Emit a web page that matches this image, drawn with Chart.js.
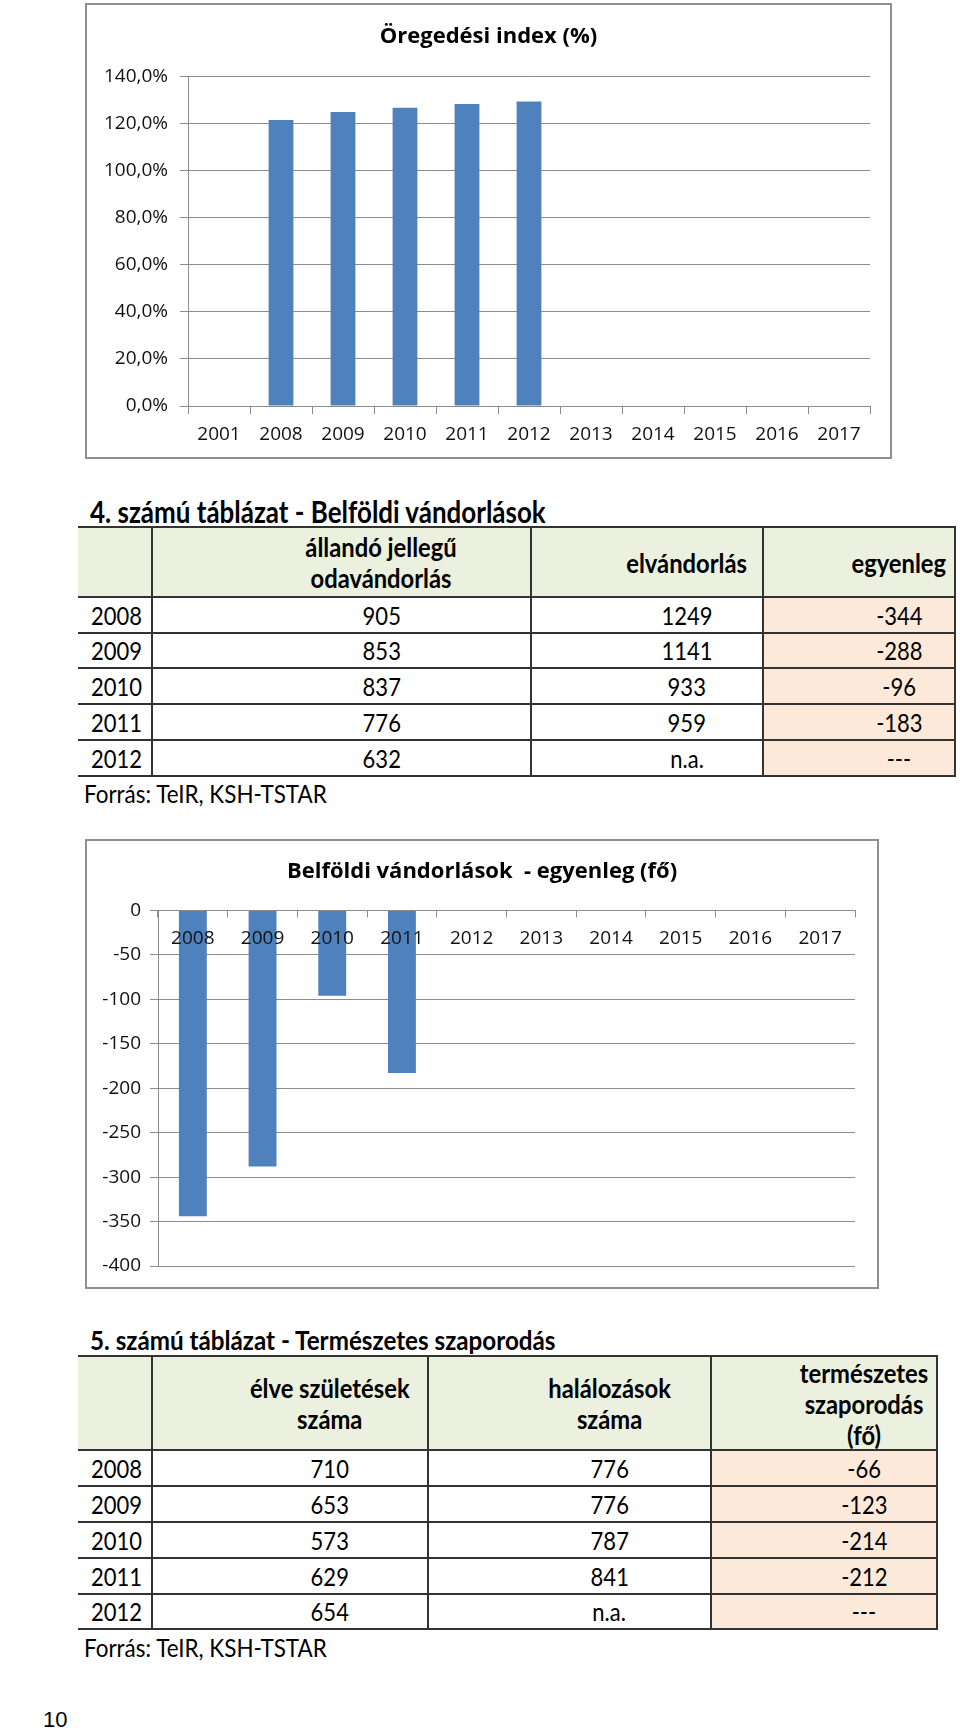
<!DOCTYPE html>
<html><head><meta charset="utf-8">
<script src="https://cdn.jsdelivr.net/npm/chart.js@4"></script>
<style>
html,body{margin:0;padding:0;background:#fff;}
body{width:960px;height:1731px;position:relative;overflow:hidden;font-family:Lato,"Open Sans",sans-serif;color:#000;}
.frame{position:absolute;box-sizing:border-box;border:2px solid #8f8f8f;pointer-events:none;}
canvas{position:absolute;}
.t{display:inline-block;transform:scaleX(0.88);}
.heading{position:absolute;font-weight:bold;font-size:29.5px;line-height:32px;white-space:nowrap;}
.heading .t,.src .t{transform-origin:left center;}
.src{position:absolute;font-size:25.5px;line-height:30px;white-space:nowrap;}
.cell{position:absolute;box-sizing:border-box;font-size:25px;line-height:31px;white-space:nowrap;display:flex;align-items:center;}
.cell.h{font-size:27px;font-weight:bold;}
.cell .t{transform-origin:center center;}
.cell.yr .t{transform-origin:right center;}
.hline,.vline{position:absolute;background:#333;}
.pnum{position:absolute;font-family:"Liberation Sans",Arial,sans-serif;font-size:22px;line-height:26px;}
</style>
</head>
<body>
<canvas id="c1" width="807" height="456" style="left:85px;top:3px;width:807px;height:456px"></canvas>
<div class="frame" style="left:85px;top:3px;width:807px;height:456px"></div>

<div class="heading" style="left:90px;top:496px"><span class="t">4. számú táblázat - Belföldi vándorlások</span></div>
<div id="t1"></div>
<div class="src" style="left:84px;top:778px"><span class="t">Forrás: TeIR, KSH-TSTAR</span></div>

<canvas id="c2" width="794" height="450" style="left:85px;top:839px;width:794px;height:450px"></canvas>
<div class="frame" style="left:85px;top:839px;width:794px;height:450px"></div>

<div class="heading" style="left:90px;top:1324px;font-size:27.5px"><span class="t">5. számú táblázat - Természetes szaporodás</span></div>
<div id="t2"></div>
<div class="src" style="left:84px;top:1632px"><span class="t">Forrás: TeIR, KSH-TSTAR</span></div>

<div class="pnum" style="left:43px;top:1707px">10</div>

<script>
// ---- Chart 1: Öregedési index (%)
const agingYears = ['2001','2008','2009','2010','2011','2012','2013','2014','2015','2016','2017'];
const agingIndex = [null, 121.5, 124.9, 126.7, 128.3, 129.3, null, null, null, null, null];
const agingTicks = {min: 0, max: 140, step: 20};

// ---- Chart 2: Belföldi vándorlások - egyenleg (fő)
const migrationYears = ['2008','2009','2010','2011','2012','2013','2014','2015','2016','2017'];
const migrationBalance = [-344, -288, -96, -183, null, null, null, null, null, null];
const migrationTicks = {min: -400, max: 0, step: 50};

// ---- Table 4: Belföldi vándorlások
const t4Header = ['', 'állandó jellegű\nodavándorlás', 'elvándorlás', 'egyenleg'];
const t4Years = ['2008','2009','2010','2011','2012'];
const t4In = ['905','853','837','776','632'];
const t4Out = ['1249','1141','933','959','n.a.'];
const t4Balance = ['-344','-288','-96','-183','---'];

// ---- Table 5: Természetes szaporodás
const t5Header = ['', 'élve születések\nszáma', 'halálozások\nszáma', 'természetes\nszaporodás\n(fő)'];
const t5Years = ['2008','2009','2010','2011','2012'];
const t5Births = ['710','653','573','629','654'];
const t5Deaths = ['776','776','787','841','n.a.'];
const t5Natural = ['-66','-123','-214','-212','---'];

const BLUE = '#4F81BD';
const GRID = '#8c8c8c';
const TXT = '#111';
const FONT = 'Open Sans';

// invisible right-side spacer axis (keeps the title centred on the whole chart box)
function spacer(w) {
  return {position: 'right', display: true, min: 0, max: 1,
    grid: {display: false}, border: {display: false}, ticks: {display: false},
    afterFit(s) { s.width = w; }};
}

new Chart(document.getElementById('c1'), {
  type: 'bar',
  data: {labels: agingYears, datasets: [{data: agingIndex, backgroundColor: BLUE, barPercentage: 0.4, categoryPercentage: 1}]},
  options: {
    responsive: false, animation: false, devicePixelRatio: 1,
    layout: {padding: 0},
    plugins: {
      legend: {display: false}, tooltip: {enabled: false},
      title: {display: true, text: 'Öregedési index (%)', color: '#000',
        font: {family: FONT, size: 22, weight: 'bold'}, padding: {top: 21, bottom: 26}}
    },
    scales: {
      x: {
        grid: {display: true, drawOnChartArea: false, drawTicks: true, tickLength: 8, color: GRID, offset: true},
        border: {display: true, color: GRID, width: 1},
        ticks: {font: {family: FONT, size: 19}, color: TXT, padding: 9, maxRotation: 0, autoSkip: false},
        afterFit(s) { s.height = 53; }
      },
      y: {
        min: agingTicks.min, max: agingTicks.max,
        ticks: {stepSize: agingTicks.step, font: {family: FONT, size: 19}, color: TXT, padding: 12,
          callback: v => v.toFixed(1).replace('.', ',') + '%'},
        grid: {color: GRID, tickLength: 8},
        border: {display: true, color: GRID},
        afterFit(s) { s.width = 103; }
      },
      yR: spacer(22)
    }
  }
});

new Chart(document.getElementById('c2'), {
  type: 'bar',
  data: {labels: migrationYears, datasets: [{data: migrationBalance, backgroundColor: BLUE, barPercentage: 0.4, categoryPercentage: 1}]},
  options: {
    responsive: false, animation: false, devicePixelRatio: 1,
    layout: {padding: {left: 0, right: 0, top: 0, bottom: 23}},
    plugins: {
      legend: {display: false}, tooltip: {enabled: false},
      title: {display: true, text: 'Belföldi vándorlások  - egyenleg (fő)', color: '#000',
        font: {family: FONT, size: 22, weight: 'bold'}, padding: {top: 20, bottom: 25}}
    },
    scales: {
      x: {
        position: 'top',
        grid: {display: true, drawOnChartArea: false, drawTicks: true, tickLength: -7, color: GRID, offset: true, z: 1},
        border: {display: true, color: GRID, z: 1},
        ticks: {mirror: true, font: {family: FONT, size: 19}, color: TXT, padding: 17, maxRotation: 0, autoSkip: false, z: 1},
        afterFit(s) { s.height = 0; }
      },
      y: {
        min: migrationTicks.min, max: migrationTicks.max,
        ticks: {stepSize: migrationTicks.step, font: {family: FONT, size: 19}, color: TXT, padding: 9},
        grid: {color: GRID, tickLength: 8},
        border: {display: true, color: GRID},
        afterFit(s) { s.width = 73; }
      },
      yR: spacer(24)
    }
  }
});

function buildTable(host, colX, rowY, header, cols, balanceCol) {
  const el = document.getElementById(host);
  const add = (cls, style, html) => {
    const d = document.createElement('div');
    d.className = cls; Object.assign(d.style, style);
    if (html !== undefined) d.innerHTML = html;
    el.appendChild(d); return d;
  };
  const nRows = rowY.length - 1;
  for (let r = 0; r < nRows; r++) {
    for (let c = 0; c < colX.length - 1; c++) {
      const x0 = colX[c], x1 = colX[c + 1], y0 = rowY[r], y1 = rowY[r + 1];
      let bg = '#fff';
      if (r === 0) bg = '#EBF1DE'; else if (c === balanceCol) bg = '#FDE9D9';
      const text = r === 0 ? header[c] : cols[c][r - 1];
      const style = {left: x0 + 'px', top: y0 + 'px', width: (x1 - x0) + 'px', height: (y1 - y0) + 'px', background: bg};
      let cls = 'cell';
      if (c === 0) { style.justifyContent = 'flex-end'; style.paddingRight = '10px'; cls += ' yr'; }
      else { style.justifyContent = 'center'; style.paddingLeft = '80px'; style.textAlign = 'center'; }
      if (r === 0) cls += ' h';
      add(cls, style, text ? '<span class="t">' + text.replace(/\n/g, '<br>') + '</span>' : '');
    }
  }
  const L = colX[0], R = colX[colX.length - 1];
  rowY.forEach(y => add('hline', {left: L + 'px', top: (y - 1) + 'px', width: (R - L + 1) + 'px', height: '2px'}));
  for (let c = 1; c < colX.length; c++) {
    add('vline', {left: (colX[c] - 1) + 'px', top: rowY[0] + 'px', width: '2px', height: (rowY[rowY.length - 1] - rowY[0]) + 'px'});
  }
}

buildTable('t1', [78, 152, 531, 763, 955], [527, 597, 633, 668, 704, 740, 776],
  t4Header, [t4Years, t4In, t4Out, t4Balance], 3);
buildTable('t2', [78, 152, 428, 711, 937], [1356, 1450, 1486, 1522, 1558, 1594, 1629],
  t5Header, [t5Years, t5Births, t5Deaths, t5Natural], 3);
</script>
</body></html>
